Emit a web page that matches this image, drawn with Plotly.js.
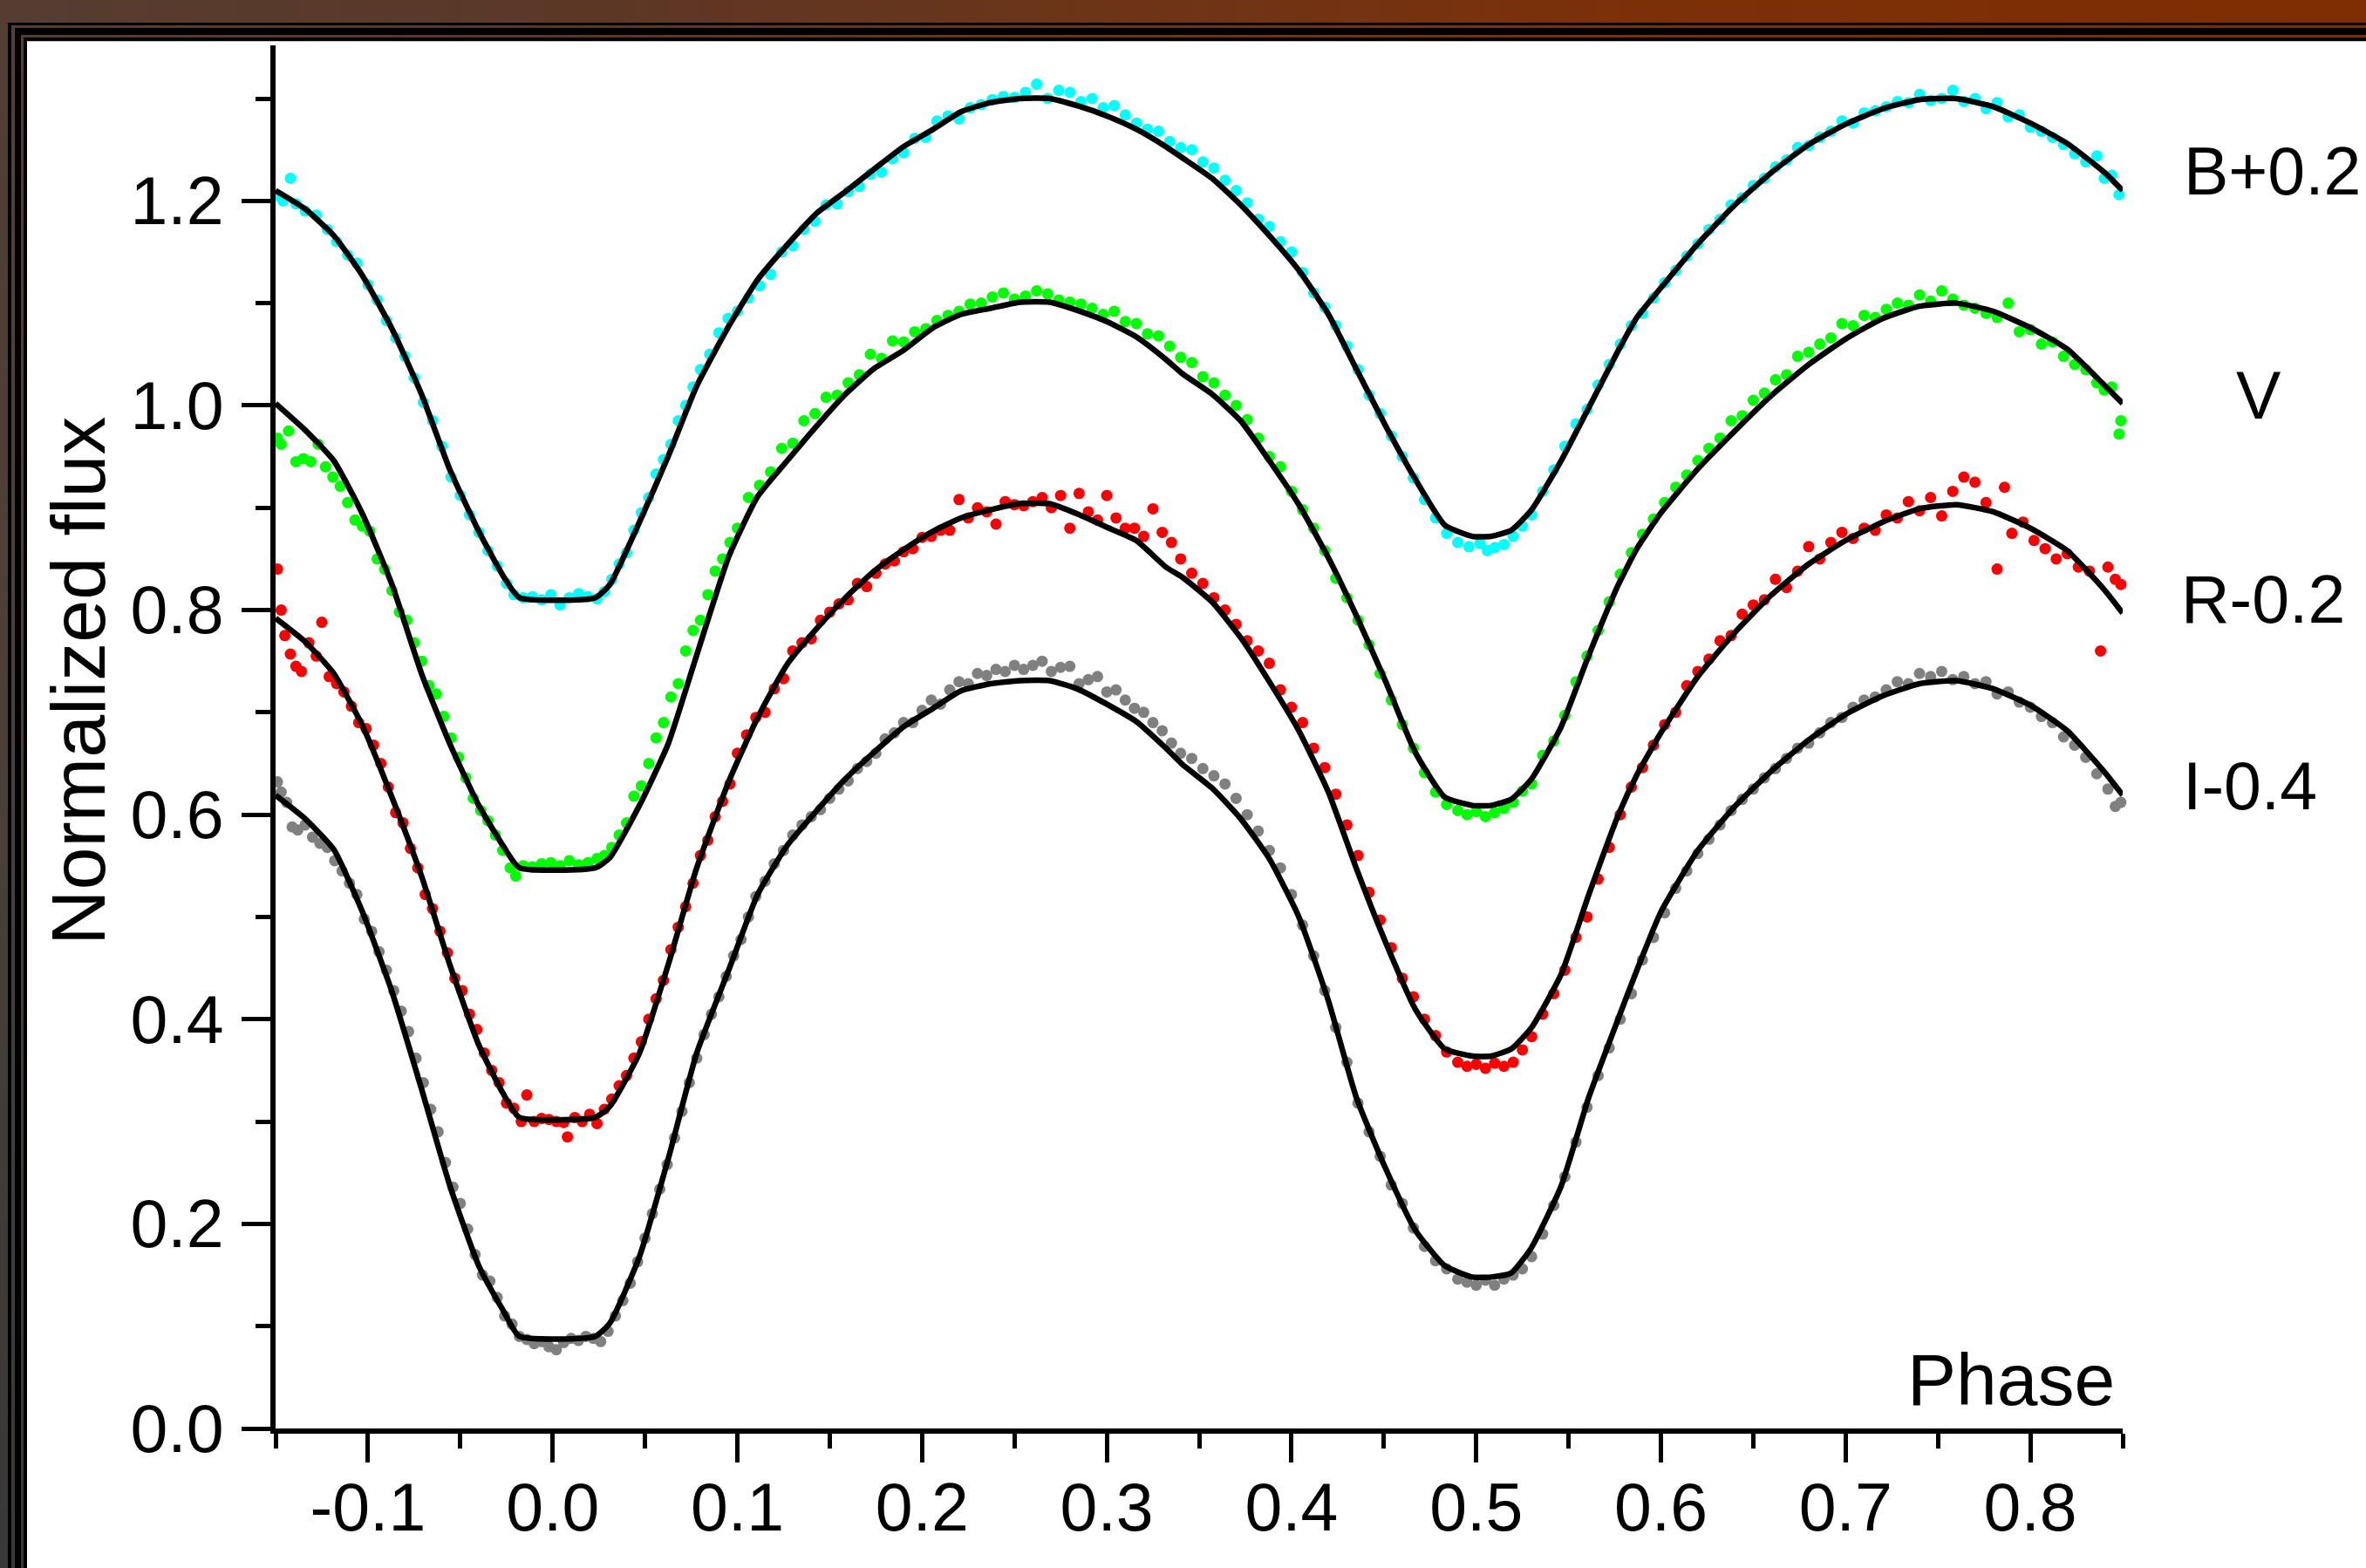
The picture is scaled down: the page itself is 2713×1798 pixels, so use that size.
<!DOCTYPE html>
<html>
<head>
<meta charset="utf-8">
<script src="https://cdn.plot.ly/plotly-3.0.1.min.js"></script>
<style>
  html, body { margin:0; padding:0; background:#ffffff; }
  #wrap { position:relative; width:2713px; height:1798px; overflow:hidden; background:#fff; }
  #chart { position:absolute; left:0; top:0; width:2713px; height:1798px; z-index:1; }
  .fr { position:absolute; z-index:5; }
</style>
</head>
<body>
<div id="wrap">
  <div id="chart"></div>
  <!-- slide frame -->
  <div class="fr" style="left:0;top:0;width:2713px;height:48px;background:linear-gradient(to right,#553d31 0%,#5c3726 25%,#6f3416 50%,#7c3008 70%,#7f2d02 100%);"></div>
  <div class="fr" style="left:0;top:26px;width:31px;height:1772px;background:linear-gradient(to bottom,#533e33 0%,#4a4038 45%,#383838 100%);"></div>
  <div class="fr" style="left:9px;top:26px;width:2704px;height:3px;background:#000;"></div>
  <div class="fr" style="left:9px;top:26px;width:4px;height:1772px;background:#000;"></div>
  <div class="fr" style="left:17px;top:32px;width:2696px;height:8px;background:#000;"></div>
  <div class="fr" style="left:17px;top:32px;width:7px;height:1766px;background:#000;"></div>
  <div class="fr" style="left:27px;top:43px;width:2686px;height:4px;background:#000;"></div>
  <div class="fr" style="left:27px;top:43px;width:4px;height:1755px;background:#000;"></div>
  <div class="fr" style="left:31px;top:47px;width:2682px;height:1px;background:#c8c8c8;"></div>
</div>
<script>
// ---------- data ----------
const fitPhase = [-0.150,-0.134,-0.1185,-0.103,-0.087,-0.071,-0.0556,-0.040,-0.027,-0.018,0.023,0.031,0.047,0.0625,0.078,0.0955,0.111,0.127,0.143,0.1585,0.174,0.190,0.206,0.221,0.237,0.253,0.269,0.284,0.300,0.316,0.332,0.341,0.357,0.3725,0.388,0.404,0.420,0.435,0.451,0.467,0.483,0.498,0.508,0.519,0.530,0.546,0.561,0.577,0.587,0.600,0.620,0.640,0.660,0.680,0.700,0.720,0.740,0.760,0.780,0.800,0.820,0.840,0.850];
const fitB = [1.210,1.192,1.166,1.127,1.075,1.011,0.937,0.877,0.834,0.812,0.812,0.825,0.886,0.950,1.019,1.078,1.123,1.157,1.188,1.209,1.231,1.253,1.270,1.287,1.296,1.300,1.300,1.293,1.283,1.270,1.253,1.242,1.222,1.196,1.166,1.132,1.089,1.036,0.980,0.928,0.883,0.872,0.872,0.878,0.898,0.946,0.998,1.054,1.086,1.115,1.158,1.196,1.228,1.255,1.275,1.290,1.299,1.300,1.292,1.276,1.256,1.228,1.210];
const fitV = [1.002,0.976,0.946,0.894,0.825,0.738,0.669,0.609,0.570,0.548,0.548,0.558,0.609,0.669,0.756,0.853,0.911,0.946,0.980,1.011,1.036,1.054,1.076,1.089,1.095,1.101,1.101,1.093,1.082,1.067,1.045,1.031,1.011,0.985,0.946,0.903,0.851,0.795,0.730,0.661,0.617,0.609,0.609,0.615,0.635,0.686,0.756,0.825,0.860,0.895,0.938,0.975,1.010,1.040,1.065,1.085,1.097,1.100,1.092,1.076,1.055,1.020,1.002];
const fitR = [0.792,0.769,0.738,0.687,0.617,0.540,0.453,0.375,0.328,0.304,0.304,0.315,0.367,0.453,0.548,0.633,0.695,0.747,0.782,0.812,0.838,0.859,0.877,0.890,0.898,0.904,0.904,0.894,0.881,0.868,0.842,0.832,0.808,0.773,0.730,0.682,0.622,0.548,0.475,0.410,0.371,0.364,0.364,0.371,0.392,0.444,0.522,0.600,0.639,0.680,0.735,0.778,0.815,0.845,0.868,0.886,0.899,0.903,0.896,0.880,0.858,0.820,0.797];
const fitI = [0.619,0.596,0.566,0.505,0.427,0.332,0.237,0.159,0.116,0.090,0.090,0.103,0.168,0.263,0.367,0.449,0.522,0.570,0.604,0.635,0.661,0.686,0.704,0.721,0.728,0.731,0.731,0.723,0.708,0.691,0.665,0.649,0.626,0.596,0.557,0.500,0.418,0.324,0.254,0.194,0.159,0.148,0.148,0.152,0.177,0.237,0.324,0.401,0.448,0.505,0.565,0.608,0.643,0.673,0.698,0.716,0.728,0.731,0.723,0.707,0.682,0.642,0.619];

// observed points [phase, normalized flux]
const obsB = [[-0.149,1.205],[-0.146,1.200],[-0.142,1.222],[-0.139,1.197],[-0.134,1.190],[-0.128,1.186],[-0.122,1.172],[-0.117,1.160],[-0.111,1.147],[-0.106,1.139],[-0.100,1.118],[-0.095,1.103],[-0.090,1.083],[-0.085,1.066],[-0.080,1.048],[-0.075,1.027],[-0.070,1.003],[-0.065,0.985],[-0.060,0.960],[-0.055,0.930],[-0.050,0.912],[-0.045,0.893],[-0.040,0.876],[-0.035,0.858],[-0.030,0.843],[-0.025,0.826],[-0.021,0.815],[-0.016,0.812],[-0.011,0.813],[-0.006,0.810],[-0.001,0.815],[0.004,0.805],[0.009,0.812],[0.014,0.816],[0.019,0.813],[0.024,0.811],[0.028,0.818],[0.032,0.830],[0.036,0.845],[0.040,0.856],[0.044,0.878],[0.048,0.895],[0.052,0.910],[0.056,0.933],[0.060,0.947],[0.064,0.962],[0.068,0.985],[0.072,1.000],[0.076,1.018],[0.080,1.035],[0.085,1.050],[0.090,1.071],[0.095,1.085],[0.100,1.092],[0.106,1.105],[0.112,1.117],[0.118,1.128],[0.124,1.150],[0.130,1.156],[0.136,1.172],[0.142,1.180],[0.148,1.196],[0.154,1.197],[0.160,1.209],[0.166,1.214],[0.172,1.226],[0.178,1.228],[0.184,1.241],[0.190,1.247],[0.196,1.261],[0.202,1.262],[0.208,1.278],[0.214,1.283],[0.220,1.280],[0.226,1.291],[0.232,1.294],[0.238,1.299],[0.244,1.302],[0.250,1.301],[0.256,1.306],[0.262,1.314],[0.268,1.300],[0.274,1.308],[0.280,1.306],[0.286,1.297],[0.292,1.300],[0.298,1.291],[0.304,1.293],[0.310,1.284],[0.316,1.276],[0.322,1.270],[0.328,1.268],[0.334,1.258],[0.340,1.252],[0.346,1.250],[0.352,1.238],[0.358,1.232],[0.364,1.220],[0.370,1.210],[0.376,1.198],[0.382,1.182],[0.388,1.175],[0.394,1.160],[0.400,1.150],[0.406,1.130],[0.412,1.110],[0.418,1.096],[0.424,1.078],[0.430,1.058],[0.436,1.035],[0.442,1.010],[0.448,0.992],[0.454,0.970],[0.460,0.950],[0.466,0.929],[0.472,0.908],[0.478,0.890],[0.484,0.875],[0.490,0.866],[0.496,0.862],[0.502,0.865],[0.506,0.858],[0.510,0.861],[0.515,0.864],[0.520,0.872],[0.525,0.882],[0.530,0.893],[0.536,0.916],[0.542,0.937],[0.548,0.960],[0.554,0.982],[0.560,0.996],[0.566,1.020],[0.572,1.040],[0.578,1.060],[0.584,1.078],[0.590,1.090],[0.596,1.105],[0.602,1.120],[0.608,1.132],[0.614,1.146],[0.620,1.158],[0.626,1.172],[0.632,1.182],[0.638,1.196],[0.644,1.203],[0.650,1.215],[0.656,1.222],[0.662,1.233],[0.668,1.240],[0.674,1.252],[0.680,1.254],[0.686,1.262],[0.692,1.268],[0.698,1.278],[0.704,1.276],[0.710,1.286],[0.716,1.288],[0.722,1.292],[0.728,1.297],[0.734,1.296],[0.740,1.304],[0.746,1.298],[0.752,1.300],[0.758,1.308],[0.764,1.297],[0.770,1.300],[0.776,1.290],[0.782,1.296],[0.788,1.282],[0.794,1.284],[0.800,1.272],[0.806,1.268],[0.812,1.262],[0.818,1.255],[0.824,1.246],[0.830,1.238],[0.836,1.244],[0.840,1.222],[0.844,1.225],[0.848,1.206]];
const obsV = [[-0.149,0.968],[-0.147,0.962],[-0.143,0.975],[-0.139,0.945],[-0.135,0.948],[-0.131,0.945],[-0.127,0.962],[-0.123,0.940],[-0.119,0.930],[-0.115,0.921],[-0.111,0.905],[-0.107,0.888],[-0.103,0.882],[-0.099,0.877],[-0.095,0.850],[-0.091,0.840],[-0.087,0.819],[-0.083,0.798],[-0.079,0.790],[-0.075,0.768],[-0.071,0.750],[-0.067,0.726],[-0.063,0.718],[-0.059,0.696],[-0.055,0.675],[-0.051,0.656],[-0.047,0.636],[-0.043,0.616],[-0.039,0.604],[-0.035,0.594],[-0.031,0.580],[-0.027,0.565],[-0.023,0.548],[-0.020,0.540],[-0.016,0.550],[-0.011,0.549],[-0.006,0.552],[-0.001,0.553],[0.004,0.550],[0.009,0.555],[0.014,0.551],[0.019,0.553],[0.024,0.557],[0.028,0.560],[0.032,0.568],[0.036,0.580],[0.040,0.592],[0.044,0.618],[0.048,0.628],[0.052,0.650],[0.056,0.675],[0.060,0.690],[0.064,0.715],[0.068,0.728],[0.072,0.760],[0.076,0.780],[0.080,0.790],[0.084,0.815],[0.088,0.838],[0.092,0.850],[0.096,0.866],[0.100,0.880],[0.106,0.910],[0.112,0.922],[0.118,0.935],[0.124,0.958],[0.130,0.963],[0.136,0.985],[0.142,0.992],[0.148,1.008],[0.154,1.010],[0.160,1.022],[0.166,1.030],[0.172,1.050],[0.178,1.046],[0.184,1.063],[0.190,1.062],[0.196,1.072],[0.202,1.075],[0.208,1.083],[0.214,1.088],[0.220,1.092],[0.226,1.099],[0.232,1.100],[0.238,1.106],[0.244,1.110],[0.250,1.104],[0.256,1.107],[0.262,1.112],[0.268,1.109],[0.274,1.103],[0.280,1.101],[0.286,1.099],[0.292,1.095],[0.298,1.089],[0.304,1.092],[0.310,1.082],[0.316,1.080],[0.322,1.070],[0.328,1.068],[0.334,1.058],[0.340,1.047],[0.346,1.042],[0.352,1.028],[0.358,1.022],[0.364,1.010],[0.370,1.000],[0.376,0.986],[0.382,0.968],[0.388,0.950],[0.394,0.940],[0.400,0.916],[0.406,0.898],[0.412,0.880],[0.418,0.858],[0.424,0.831],[0.430,0.812],[0.436,0.790],[0.442,0.766],[0.448,0.738],[0.454,0.712],[0.460,0.688],[0.466,0.665],[0.472,0.641],[0.478,0.622],[0.484,0.610],[0.490,0.604],[0.495,0.600],[0.500,0.603],[0.505,0.598],[0.510,0.602],[0.515,0.606],[0.520,0.612],[0.525,0.623],[0.530,0.630],[0.536,0.658],[0.542,0.672],[0.548,0.697],[0.554,0.730],[0.560,0.755],[0.566,0.780],[0.572,0.808],[0.578,0.835],[0.584,0.856],[0.590,0.874],[0.596,0.889],[0.602,0.905],[0.608,0.920],[0.614,0.932],[0.620,0.946],[0.626,0.958],[0.632,0.968],[0.638,0.985],[0.644,0.990],[0.650,1.005],[0.656,1.012],[0.662,1.025],[0.668,1.030],[0.674,1.048],[0.680,1.052],[0.686,1.060],[0.692,1.066],[0.698,1.080],[0.704,1.078],[0.710,1.088],[0.716,1.086],[0.722,1.094],[0.728,1.100],[0.734,1.098],[0.740,1.108],[0.746,1.102],[0.752,1.112],[0.758,1.104],[0.764,1.098],[0.770,1.095],[0.776,1.090],[0.782,1.086],[0.788,1.100],[0.794,1.072],[0.800,1.074],[0.806,1.060],[0.812,1.062],[0.818,1.048],[0.824,1.040],[0.830,1.035],[0.836,1.022],[0.840,1.015],[0.844,1.018],[0.848,0.972],[0.849,0.985]];
const obsR = [[-0.149,0.840],[-0.147,0.800],[-0.145,0.775],[-0.142,0.757],[-0.139,0.745],[-0.136,0.740],[-0.132,0.768],[-0.128,0.755],[-0.125,0.788],[-0.121,0.735],[-0.117,0.728],[-0.113,0.720],[-0.109,0.706],[-0.105,0.690],[-0.101,0.684],[-0.097,0.668],[-0.093,0.650],[-0.089,0.627],[-0.085,0.602],[-0.081,0.592],[-0.077,0.567],[-0.073,0.548],[-0.069,0.522],[-0.065,0.508],[-0.061,0.486],[-0.057,0.465],[-0.053,0.440],[-0.049,0.428],[-0.045,0.405],[-0.041,0.390],[-0.037,0.367],[-0.033,0.350],[-0.029,0.338],[-0.025,0.318],[-0.021,0.313],[-0.017,0.300],[-0.014,0.326],[-0.010,0.300],[-0.006,0.303],[-0.002,0.302],[0.002,0.300],[0.006,0.299],[0.008,0.285],[0.012,0.304],[0.016,0.300],[0.020,0.307],[0.024,0.298],[0.028,0.312],[0.032,0.322],[0.036,0.335],[0.040,0.345],[0.044,0.362],[0.048,0.378],[0.052,0.400],[0.056,0.420],[0.060,0.438],[0.064,0.468],[0.068,0.490],[0.072,0.510],[0.076,0.533],[0.080,0.560],[0.084,0.575],[0.088,0.598],[0.092,0.613],[0.096,0.630],[0.100,0.660],[0.105,0.678],[0.110,0.695],[0.115,0.700],[0.120,0.723],[0.125,0.733],[0.130,0.760],[0.135,0.768],[0.140,0.772],[0.145,0.790],[0.150,0.798],[0.155,0.806],[0.160,0.810],[0.165,0.826],[0.170,0.823],[0.175,0.836],[0.180,0.845],[0.185,0.848],[0.190,0.857],[0.195,0.860],[0.200,0.871],[0.205,0.872],[0.210,0.878],[0.215,0.878],[0.220,0.908],[0.225,0.890],[0.230,0.900],[0.235,0.896],[0.240,0.884],[0.245,0.906],[0.250,0.903],[0.255,0.902],[0.260,0.906],[0.265,0.910],[0.270,0.900],[0.275,0.912],[0.280,0.880],[0.285,0.914],[0.290,0.896],[0.295,0.888],[0.300,0.912],[0.305,0.890],[0.310,0.880],[0.315,0.880],[0.320,0.872],[0.325,0.899],[0.330,0.876],[0.335,0.866],[0.340,0.850],[0.346,0.836],[0.352,0.826],[0.358,0.812],[0.364,0.800],[0.370,0.786],[0.376,0.770],[0.382,0.760],[0.388,0.748],[0.394,0.722],[0.400,0.705],[0.406,0.690],[0.412,0.665],[0.418,0.646],[0.424,0.620],[0.430,0.590],[0.436,0.560],[0.442,0.524],[0.448,0.497],[0.454,0.470],[0.460,0.440],[0.466,0.422],[0.472,0.400],[0.478,0.384],[0.484,0.368],[0.490,0.358],[0.495,0.354],[0.500,0.356],[0.505,0.352],[0.510,0.357],[0.515,0.354],[0.520,0.358],[0.525,0.370],[0.530,0.383],[0.536,0.405],[0.542,0.425],[0.548,0.448],[0.554,0.480],[0.560,0.500],[0.566,0.537],[0.572,0.568],[0.578,0.600],[0.584,0.627],[0.590,0.646],[0.596,0.668],[0.602,0.688],[0.608,0.700],[0.614,0.726],[0.620,0.740],[0.626,0.752],[0.632,0.770],[0.638,0.775],[0.644,0.796],[0.650,0.805],[0.656,0.810],[0.662,0.830],[0.668,0.822],[0.674,0.838],[0.680,0.862],[0.686,0.850],[0.692,0.866],[0.698,0.876],[0.704,0.870],[0.710,0.880],[0.716,0.878],[0.722,0.893],[0.728,0.890],[0.734,0.906],[0.740,0.897],[0.746,0.910],[0.752,0.892],[0.758,0.916],[0.764,0.930],[0.770,0.925],[0.776,0.905],[0.782,0.840],[0.786,0.920],[0.790,0.875],[0.796,0.886],[0.802,0.868],[0.808,0.860],[0.814,0.850],[0.820,0.855],[0.826,0.842],[0.832,0.838],[0.838,0.760],[0.842,0.842],[0.846,0.830],[0.849,0.825]];
const obsI = [[-0.149,0.632],[-0.147,0.622],[-0.144,0.612],[-0.141,0.588],[-0.138,0.585],[-0.134,0.590],[-0.130,0.578],[-0.126,0.572],[-0.122,0.568],[-0.118,0.555],[-0.114,0.545],[-0.110,0.533],[-0.106,0.522],[-0.102,0.498],[-0.098,0.486],[-0.094,0.466],[-0.090,0.448],[-0.086,0.428],[-0.082,0.408],[-0.078,0.388],[-0.074,0.362],[-0.070,0.338],[-0.066,0.312],[-0.062,0.290],[-0.058,0.260],[-0.054,0.236],[-0.050,0.220],[-0.046,0.195],[-0.042,0.170],[-0.038,0.150],[-0.034,0.144],[-0.030,0.128],[-0.026,0.110],[-0.022,0.102],[-0.018,0.090],[-0.014,0.087],[-0.010,0.083],[-0.006,0.085],[-0.002,0.080],[0.002,0.077],[0.006,0.084],[0.010,0.088],[0.014,0.086],[0.018,0.090],[0.022,0.088],[0.026,0.085],[0.030,0.095],[0.034,0.110],[0.038,0.125],[0.042,0.142],[0.046,0.163],[0.050,0.186],[0.054,0.210],[0.058,0.234],[0.062,0.258],[0.066,0.284],[0.070,0.310],[0.074,0.338],[0.078,0.362],[0.082,0.385],[0.086,0.405],[0.090,0.422],[0.094,0.442],[0.098,0.462],[0.102,0.478],[0.106,0.500],[0.110,0.520],[0.115,0.535],[0.120,0.552],[0.125,0.565],[0.130,0.580],[0.135,0.590],[0.140,0.598],[0.145,0.605],[0.150,0.616],[0.155,0.625],[0.160,0.633],[0.165,0.645],[0.170,0.652],[0.175,0.660],[0.180,0.674],[0.185,0.680],[0.190,0.690],[0.195,0.690],[0.200,0.702],[0.205,0.712],[0.210,0.708],[0.215,0.722],[0.220,0.730],[0.225,0.728],[0.230,0.738],[0.235,0.736],[0.240,0.742],[0.245,0.740],[0.250,0.746],[0.255,0.742],[0.260,0.746],[0.265,0.750],[0.270,0.740],[0.275,0.744],[0.280,0.745],[0.285,0.728],[0.290,0.732],[0.295,0.735],[0.300,0.720],[0.305,0.722],[0.310,0.712],[0.315,0.704],[0.320,0.700],[0.325,0.690],[0.330,0.682],[0.335,0.670],[0.340,0.660],[0.346,0.655],[0.352,0.645],[0.358,0.638],[0.364,0.630],[0.370,0.616],[0.376,0.600],[0.382,0.584],[0.388,0.565],[0.394,0.548],[0.400,0.522],[0.406,0.492],[0.412,0.462],[0.418,0.428],[0.424,0.392],[0.430,0.358],[0.436,0.318],[0.442,0.290],[0.448,0.266],[0.454,0.238],[0.460,0.220],[0.466,0.196],[0.472,0.178],[0.478,0.164],[0.484,0.156],[0.490,0.146],[0.495,0.143],[0.500,0.140],[0.505,0.145],[0.510,0.140],[0.515,0.146],[0.520,0.150],[0.525,0.156],[0.530,0.168],[0.536,0.190],[0.542,0.218],[0.548,0.246],[0.554,0.280],[0.560,0.314],[0.566,0.345],[0.572,0.372],[0.578,0.400],[0.584,0.425],[0.590,0.458],[0.596,0.480],[0.602,0.504],[0.608,0.528],[0.614,0.545],[0.620,0.562],[0.626,0.576],[0.632,0.590],[0.638,0.604],[0.644,0.615],[0.650,0.625],[0.656,0.636],[0.662,0.645],[0.668,0.655],[0.674,0.665],[0.680,0.670],[0.686,0.680],[0.692,0.690],[0.698,0.695],[0.704,0.705],[0.710,0.712],[0.716,0.715],[0.722,0.722],[0.728,0.730],[0.734,0.728],[0.740,0.738],[0.746,0.735],[0.752,0.740],[0.758,0.732],[0.764,0.735],[0.770,0.728],[0.776,0.730],[0.782,0.718],[0.788,0.720],[0.794,0.710],[0.800,0.705],[0.806,0.696],[0.812,0.690],[0.818,0.676],[0.824,0.668],[0.830,0.656],[0.836,0.640],[0.842,0.625],[0.846,0.608],[0.849,0.612]];

const bandLabels = ['B+0.2', 'V', 'R-0.2', 'I-0.4'];
const bandColors = ['#00ffff', '#00ff00', '#ff0000', '#808080'];
const xTickVals = [-0.1, 0.0, 0.1, 0.2, 0.3, 0.4, 0.5, 0.6, 0.7, 0.8];
const xTickText = ['-0.1', '0.0', '0.1', '0.2', '0.3', '0.4', '0.5', '0.6', '0.7', '0.8'];
const xMinorVals = [-0.15, -0.05, 0.05, 0.15, 0.25, 0.35, 0.45, 0.55, 0.65, 0.75, 0.85];
const yTickVals = [0.0, 0.2, 0.4, 0.6, 0.8, 1.0, 1.2];
const yTickText = ['0.0', '0.2', '0.4', '0.6', '0.8', '1.0', '1.2'];
const yMinorVals = [0.1, 0.3, 0.5, 0.7, 0.9, 1.1, 1.3];

// ---------- figure ----------
const FONT = 'Liberation Sans, Arial, Helvetica, sans-serif';
const X_RANGE = [-0.15, 0.85];
const Y_RANGE = [0, 1.352];
const obsSets = [obsB, obsV, obsR, obsI];
const fitSets = [fitB, fitV, fitR, fitI];

const traces = [];
obsSets.forEach((set, k) => {
  traces.push({
    type: 'scatter', mode: 'markers',
    x: set.map(p => p[0]), y: set.map(p => p[1]),
    marker: { color: bandColors[k], size: 13, line: { width: 0 } },
    cliponaxis: false, showlegend: false, hoverinfo: 'skip'
  });
});
fitSets.forEach((ys) => {
  traces.push({
    type: 'scatter', mode: 'lines',
    x: fitPhase, y: ys,
    line: { color: '#000000', width: 6.5, shape: 'spline', smoothing: 0.5 },
    showlegend: false, hoverinfo: 'skip'
  });
});

// band label positions in data units (they sit right of the x range, so convert to paper units)
const labelPos = [[0.931, 1.229], [0.9237, 1.010], [0.926, 0.8105], [0.919, 0.628]];
const toPaperX = v => (v - X_RANGE[0]) / (X_RANGE[1] - X_RANGE[0]);
const toPaperY = v => (v - Y_RANGE[0]) / (Y_RANGE[1] - Y_RANGE[0]);
const annotations = bandLabels.map((t, k) => ({
  text: t, xref: 'paper', yref: 'paper', x: toPaperX(labelPos[k][0]), y: toPaperY(labelPos[k][1]),
  xanchor: 'center', yanchor: 'middle', showarrow: false,
  font: { family: FONT, size: 77, color: '#000' }
}));
annotations.push({
  text: 'Phase', xref: 'paper', yref: 'paper', x: 0.9967, y: 0.0353,
  xanchor: 'right', yanchor: 'middle', showarrow: false,
  font: { family: FONT, size: 84, color: '#000' }
});
annotations.push({
  text: 'Normalized flux', xref: 'paper', yref: 'paper', x: -0.1067, y: 0.5404,
  xanchor: 'center', yanchor: 'middle', textangle: -90, showarrow: false,
  font: { family: FONT, size: 88, color: '#000' }
});

const axisCommon = {
  showline: true, linecolor: '#000', linewidth: 6,
  ticks: 'outside', ticklen: 33, tickwidth: 5, tickcolor: '#000',
  showgrid: false, zeroline: false, tickmode: 'array',
  tickfont: { family: FONT, size: 77, color: '#000' },
  fixedrange: true
};

const layout = {
  width: 2713, height: 1798,
  margin: { l: 316, r: 279, t: 52, b: 160, pad: 0 },
  paper_bgcolor: '#ffffff', plot_bgcolor: '#ffffff',
  showlegend: false,
  xaxis: Object.assign({}, axisCommon, {
    range: X_RANGE, tickvals: xTickVals, ticktext: xTickText, ticklabelstandoff: -14,
    minor: { tickmode: 'array', tickvals: xMinorVals, ticks: 'outside', ticklen: 17, tickwidth: 5, tickcolor: '#000', showgrid: false }
  }),
  yaxis: Object.assign({}, axisCommon, {
    range: Y_RANGE, tickvals: yTickVals, ticktext: yTickText, ticklabelstandoff: 5,
    minor: { tickmode: 'array', tickvals: yMinorVals, ticks: 'outside', ticklen: 17, tickwidth: 5, tickcolor: '#000', showgrid: false }
  }),
  annotations: annotations
};

Plotly.newPlot('chart', traces, layout, { staticPlot: true, displayModeBar: false });
</script>
</body>
</html>
